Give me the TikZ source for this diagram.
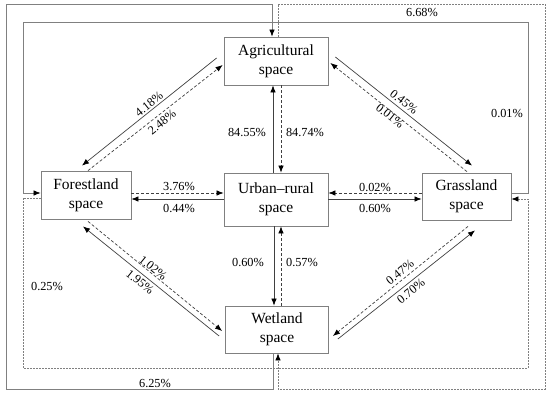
\documentclass[tikz,border=0pt]{standalone}
\usepackage{fontspec}
\setmainfont{Liberation Serif}
\usetikzlibrary{arrows.meta}
\begin{document}
\begin{tikzpicture}[x=1pt, y=-1pt,
  space/.style={draw=black!50, line width=0.8pt, align=center, inner sep=0pt, font=\fontsize{15.5}{19}\selectfont},
  pct/.style={font=\fontsize{12.3}{14}\selectfont, inner sep=0pt},
  flow/.style={draw=black!75, line width=0.7pt, -{Latex[length=7pt,width=5.5pt,color=black]}},
  back/.style={flow, dash pattern=on 3pt off 2pt},
  ring/.style={flow, draw=black!50},
  ringback/.style={ring, dash pattern=on 1.5pt off 1.5pt}]
\useasboundingbox (0,0) rectangle (550,394);
\node[space, minimum width=104pt, minimum height=48pt] (agri) at (276,61) {Agricultural\\space};
\node[space, minimum width=90pt, minimum height=48pt] (forest) at (86,195) {Forestland\\space};
\node[space, minimum width=104pt, minimum height=53pt] (urban) at (276,199.5) {Urban--rural\\space};
\node[space, minimum width=89pt, minimum height=47pt] (grass) at (466.5,196.5) {Grassland\\space};
\node[space, minimum width=103pt, minimum height=47pt] (wet) at (277,329.5) {Wetland\\space};
\draw[flow] ([shift={(-7,-3)}]agri.west) -- ([shift={(-4,-5)}]forest.north);
\draw[back] ([shift={(2,0)}]forest.north) -- ([shift={(-1,4)}]agri.west);
\draw[flow] (urban.north -| 273,0) -- (agri.south -| 273,0);
\draw[back] (agri.south -| 281,0) -- (urban.north -| 281,0);
\draw[flow] ([shift={(7,-4)}]agri.east) -- ([shift={(5.5,-7)}]grass.north);
\draw[back] ([shift={(0.5,-1)}]grass.north) -- ([shift={(2,2)}]agri.east);
\draw[back] (forest.east |- 0,193) -- (urban.west |- 0,193);
\draw[flow] (urban.west |- 0,199) -- (forest.east |- 0,199);
\draw[back] (grass.west |- 0,193) -- (urban.east |- 0,193);
\draw[flow] (urban.east |- 0,199) -- (grass.west |- 0,199);
\draw[flow] (urban.south -| 274,0) -- (wet.north -| 274,0);
\draw[back] (wet.north -| 281,0) -- (urban.south -| 281,0);
\draw[flow] ([shift={(-6,6.5)}]wet.west) -- ([shift={(-3,7)}]forest.south);
\draw[back] ([shift={(2,2)}]forest.south) -- ([shift={(-3,1.5)}]wet.west);
\draw[back] ([shift={(1.5,6)}]grass.south) -- ([shift={(4,6.5)}]wet.east);
\draw[flow] ([shift={(9,9.5)}]wet.east) -- ([shift={(8.5,10)}]grass.south);
\draw[ring] (wet.south -| 273,0) |- (6,389) |- (272,4) -- (agri.north -| 272,0);
\draw[ringback] (agri.north -| 278,0) |- (545,4) |- (278,389) -- (wet.south -| 278,0);
\draw[ring] (grass.east |- 0,193) -| (528,22) -| (23,193) -- (forest.west |- 0,193);
\draw[ringback] (forest.west |- 0,198) -| (23,368) -| (528,199) -- (grass.east |- 0,199);
\node[pct, rotate=38.7] (l418) at (149,104) {4.18\%};
\node[pct, rotate=38.7] (l248) at (162,122) {2.48\%};
\node[pct] (l8455) at (247,132) {84.55\%};
\node[pct] (l8474) at (305,132) {84.74\%};
\node[pct, rotate=-38.5] (l045) at (404,102) {0.45\%};
\node[pct, rotate=-38.5] (l001a) at (390,116) {0.01\%};
\node[pct] (l001b) at (507,113) {0.01\%};
\node[pct] (l668) at (422,12) {6.68\%};
\node[pct] (l376) at (179,186) {3.76\%};
\node[pct] (l044) at (179,208) {0.44\%};
\node[pct] (l002) at (375,187) {0.02\%};
\node[pct] (l060a) at (375,208) {0.60\%};
\node[pct] (l060b) at (248,262) {0.60\%};
\node[pct] (l057) at (302,262) {0.57\%};
\node[pct, rotate=-38.8] (l102) at (153,268) {1.02\%};
\node[pct, rotate=-38.8] (l195) at (140,282) {1.95\%};
\node[pct] (l025) at (47,286) {0.25\%};
\node[pct] (l625) at (155,383) {6.25\%};
\node[pct, rotate=39] (l047) at (400,272) {0.47\%};
\node[pct, rotate=39] (l070) at (411,291) {0.70\%};
\end{tikzpicture}
\end{document}
